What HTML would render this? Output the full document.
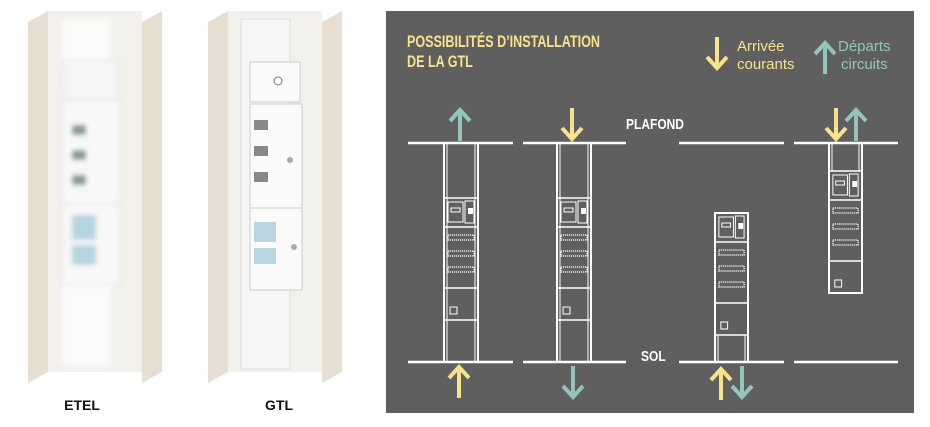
<!DOCTYPE html>
<html><head><meta charset="utf-8"><style>
html,body{margin:0;padding:0;background:#fff;width:930px;height:427px;overflow:hidden}
</style></head><body>
<svg width="930" height="427" viewBox="0 0 930 427" xmlns="http://www.w3.org/2000/svg">
<defs>
<filter id="bl"><feGaussianBlur stdDeviation="2.5"/></filter>
<g id="body" fill="none" stroke="#fff">
  <line x1="0" y1="0" x2="34" y2="0" stroke-width="1.5"/>
  <rect x="4" y="4" width="15" height="20" stroke-width="1"/>
  <rect x="7" y="10" width="9" height="4" stroke-width="1"/>
  <rect x="21" y="3" width="9" height="22" stroke-width="1"/>
  <rect x="24" y="10" width="5" height="6" fill="#fff" stroke="none"/>
  <line x1="0" y1="29" x2="34" y2="29" stroke-width="1.5"/>
  <rect x="4" y="37" width="26" height="5" stroke-width="1.2" stroke-dasharray="1.2 0.8"/>
  <rect x="4" y="53" width="26" height="5" stroke-width="1.2" stroke-dasharray="1.2 0.8"/>
  <rect x="4" y="69" width="26" height="5" stroke-width="1.2" stroke-dasharray="1.2 0.8"/>
  <line x1="0" y1="90" x2="34" y2="90" stroke-width="1.5"/>
  <rect x="6" y="109" width="7" height="7" stroke-width="1"/>
  <line x1="0" y1="122" x2="34" y2="122" stroke-width="1.5"/>
</g>
<g id="ya"><line x1="0" y1="0" x2="0" y2="30" stroke="#f6e38a" stroke-width="4"/><polyline points="-10,20 0,31 10,20" fill="none" stroke="#f6e38a" stroke-width="4"/></g>
<g id="ga"><line x1="0" y1="0" x2="0" y2="30" stroke="#93c5bb" stroke-width="4"/><polyline points="-10,20 0,31 10,20" fill="none" stroke="#93c5bb" stroke-width="4"/></g>
</defs>

<!-- left photos -->
<polygon points="28,22 48,11 48,372 28,383" fill="#e6dfd2"/>
<rect x="48" y="11" width="94" height="361" fill="#f3f1ec"/>
<polygon points="142,22 162,11 162,372 142,383" fill="#e6dfd2"/>
<g filter="url(#bl)">
<rect x="62" y="20" width="48" height="345" fill="#fbfbfb"/>
<rect x="62" y="60" width="56" height="60" fill="#f5f5f5" stroke="#dcdcdc"/>
<rect x="62" y="100" width="58" height="110" fill="#f8f8f8" stroke="#dcdcdc"/>
<rect x="62" y="205" width="58" height="80" fill="#f8f8f8" stroke="#dcdcdc"/>
<rect x="72" y="125" width="14" height="10" fill="#8a9696"/>
<rect x="72" y="150" width="14" height="10" fill="#8a9696"/>
<rect x="72" y="175" width="14" height="10" fill="#8a9696"/>
<rect x="72" y="215" width="24" height="25" fill="#b5d5e0"/>
<rect x="72" y="245" width="24" height="20" fill="#b5d5e0"/>
</g>
<polygon points="208,22 228,11 228,372 208,383" fill="#e6dfd2"/>
<rect x="228" y="11" width="94" height="361" fill="#f3f1ec"/>
<polygon points="322,22 342,11 342,372 322,383" fill="#e6dfd2"/>
<rect x="241" y="19" width="49" height="350" fill="#f6f6f6" stroke="#ddd"/>
<rect x="250" y="62" width="50" height="40" fill="#fafafa" stroke="#ccc"/>
<circle cx="278" cy="81" r="4" fill="none" stroke="#777"/>
<rect x="250" y="104" width="52" height="104" fill="#fafafa" stroke="#ccc"/>
<rect x="254" y="120" width="14" height="10" fill="#888"/>
<rect x="254" y="146" width="14" height="10" fill="#888"/>
<rect x="254" y="172" width="14" height="10" fill="#888"/>
<rect x="250" y="208" width="52" height="82" fill="#fafafa" stroke="#ccc"/>
<rect x="254" y="222" width="22" height="20" fill="#b8d7e3"/>
<rect x="254" y="248" width="22" height="16" fill="#b8d7e3"/>
<circle cx="290" cy="160" r="3" fill="#aaa"/>
<circle cx="294" cy="247" r="3" fill="#aaa"/>
<text x="82" y="410" font-family="Liberation Sans, sans-serif" font-weight="bold" font-size="14" text-anchor="middle" fill="#111">ETEL</text>
<text x="279" y="410" font-family="Liberation Sans, sans-serif" font-weight="bold" font-size="14" text-anchor="middle" fill="#111">GTL</text>

<!-- panel -->
<rect x="386" y="11" width="528" height="402" fill="#5f5f5f"/>
<text font-family="Liberation Sans, sans-serif" font-weight="bold" font-size="17" fill="#f6e38a" transform="translate(407,47) scale(0.74,1)">POSSIBILITÉS D’INSTALLATION</text>
<text font-family="Liberation Sans, sans-serif" font-weight="bold" font-size="17" fill="#f6e38a" transform="translate(407,67) scale(0.74,1)">DE LA GTL</text>
<use href="#ya" transform="translate(717,37)"/>
<text x="737" y="51" font-family="Liberation Sans, sans-serif" font-size="15" fill="#f6e38a">Arrivée</text>
<text x="737" y="69" font-family="Liberation Sans, sans-serif" font-size="15" fill="#f6e38a">courants</text>
<use href="#ga" transform="translate(825,74) rotate(180)"/>
<text x="838" y="51" font-family="Liberation Sans, sans-serif" font-size="15" fill="#93c5bb">Départs</text>
<text x="841" y="69" font-family="Liberation Sans, sans-serif" font-size="15" fill="#93c5bb">circuits</text>
<text font-family="Liberation Sans, sans-serif" font-weight="bold" font-size="15" fill="#fff" transform="translate(626,129) scale(0.8,1)">PLAFOND</text>
<text font-family="Liberation Sans, sans-serif" font-weight="bold" font-size="15" fill="#fff" transform="translate(641,361) scale(0.8,1)">SOL</text>

<g stroke="#fff" stroke-width="2.5">
<line x1="408" y1="143" x2="513" y2="143"/><line x1="523" y1="143" x2="626" y2="143"/>
<line x1="679" y1="143" x2="784" y2="143"/><line x1="794" y1="143" x2="898" y2="143"/>
<line x1="408" y1="362" x2="513" y2="362"/><line x1="523" y1="362" x2="626" y2="362"/>
<line x1="679" y1="362" x2="784" y2="362"/><line x1="794" y1="362" x2="898" y2="362"/>
</g>

<!-- cabinet 1 -->
<g fill="none" stroke="#fff">
<rect x="444" y="143" width="34" height="219" stroke-width="2"/>
<line x1="447" y1="143" x2="447" y2="362" stroke-width="1"/><line x1="475" y1="143" x2="475" y2="362" stroke-width="1"/>
</g>
<use href="#body" transform="translate(444,198)"/>
<!-- cabinet 2 -->
<g fill="none" stroke="#fff">
<rect x="557" y="143" width="34" height="219" stroke-width="2"/>
<line x1="560" y1="143" x2="560" y2="362" stroke-width="1"/><line x1="588" y1="143" x2="588" y2="362" stroke-width="1"/>
</g>
<use href="#body" transform="translate(557,198)"/>
<!-- cabinet 3 -->
<g fill="none" stroke="#fff">
<rect x="715" y="213" width="33" height="149" stroke-width="2"/>
<line x1="718" y1="335" x2="718" y2="362" stroke-width="1"/><line x1="745" y1="335" x2="745" y2="362" stroke-width="1"/>
</g>
<use href="#body" transform="translate(715,213) scale(0.97,1)"/>
<!-- cabinet 4 -->
<g fill="none" stroke="#fff">
<rect x="829" y="143" width="33" height="150" stroke-width="2"/>
<line x1="832" y1="143" x2="832" y2="171" stroke-width="1"/><line x1="859" y1="143" x2="859" y2="171" stroke-width="1"/>
</g>
<use href="#body" transform="translate(829,171) scale(0.97,1)"/>

<!-- arrows -->
<use href="#ga" transform="translate(460,141) rotate(180)"/>
<use href="#ya" transform="translate(459,398) rotate(180)"/>
<use href="#ya" transform="translate(572,108)"/>
<use href="#ga" transform="translate(573,366)"/>
<use href="#ya" transform="translate(721,400) rotate(180)"/>
<use href="#ga" transform="translate(742,366)"/>
<use href="#ya" transform="translate(836,108)"/>
<use href="#ga" transform="translate(856,141) rotate(180)"/>
</svg>
</body></html>
